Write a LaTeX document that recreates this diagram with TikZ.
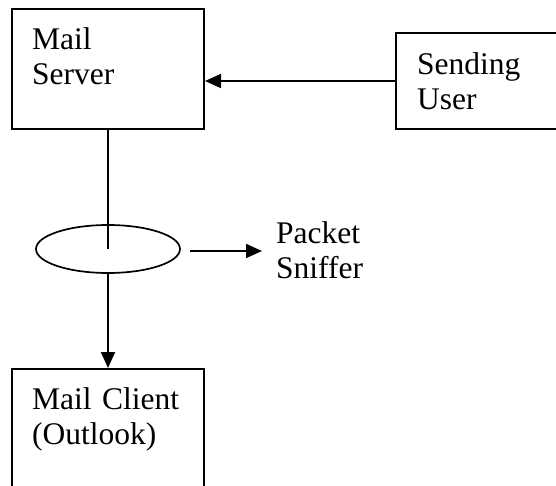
\documentclass[tikz,border=0pt]{standalone}
\usepackage{fontspec}
\setmainfont{Liberation Serif}
\usetikzlibrary{shapes.geometric,arrows.meta}
\begin{document}
\begin{tikzpicture}[x=1pt,y=1pt,
  box/.style={draw,line width=2pt,minimum width=192pt,inner sep=0pt},
  lbl/.style={anchor=base west,inner sep=0pt,text width=200pt,align=left,
              font=\fontsize{31.5}{35}\selectfont},
  link/.style={line width=1.7pt},
  arr/.style={link,-{Triangle[length=16pt,width=14pt]}}]
\useasboundingbox (0,0) rectangle (556,485);

% boxes (the user and client boxes run off the page edge)
\node[box,minimum height=120pt] (server) at (108,416) {};
\node[box,minimum width=180pt,minimum height=96pt] (user) at (486,404) {};
\node[box,minimum height=140pt] (client) at (108,46) {};
\node[draw,ellipse,line width=1.7pt,minimum width=144pt,minimum height=48pt,
      inner sep=0pt] (sniff) at (108,236) {};

% labels
\node[lbl] (serverlbl) at (32,435) {Mail\\Server};
\node[lbl] (userlbl) at (417,410) {Sending\\User};
\node[lbl] (snifflbl) at (276,242) {Packet\\Sniffer};
\node[lbl] (clientlbl) at (32,76) {Mail Client\\(Outlook)};

% connectors
\draw[arr] (user.west) -- (user.west -| server.east);
\draw[link] (server.south) -- (sniff.center);
\draw[arr] (sniff.south) -- (client.north);
\coordinate (tapA) at (190,234);
\coordinate (tapB) at (262,234);
\draw[arr] (tapA) -- (tapB);
\end{tikzpicture}
\end{document}
